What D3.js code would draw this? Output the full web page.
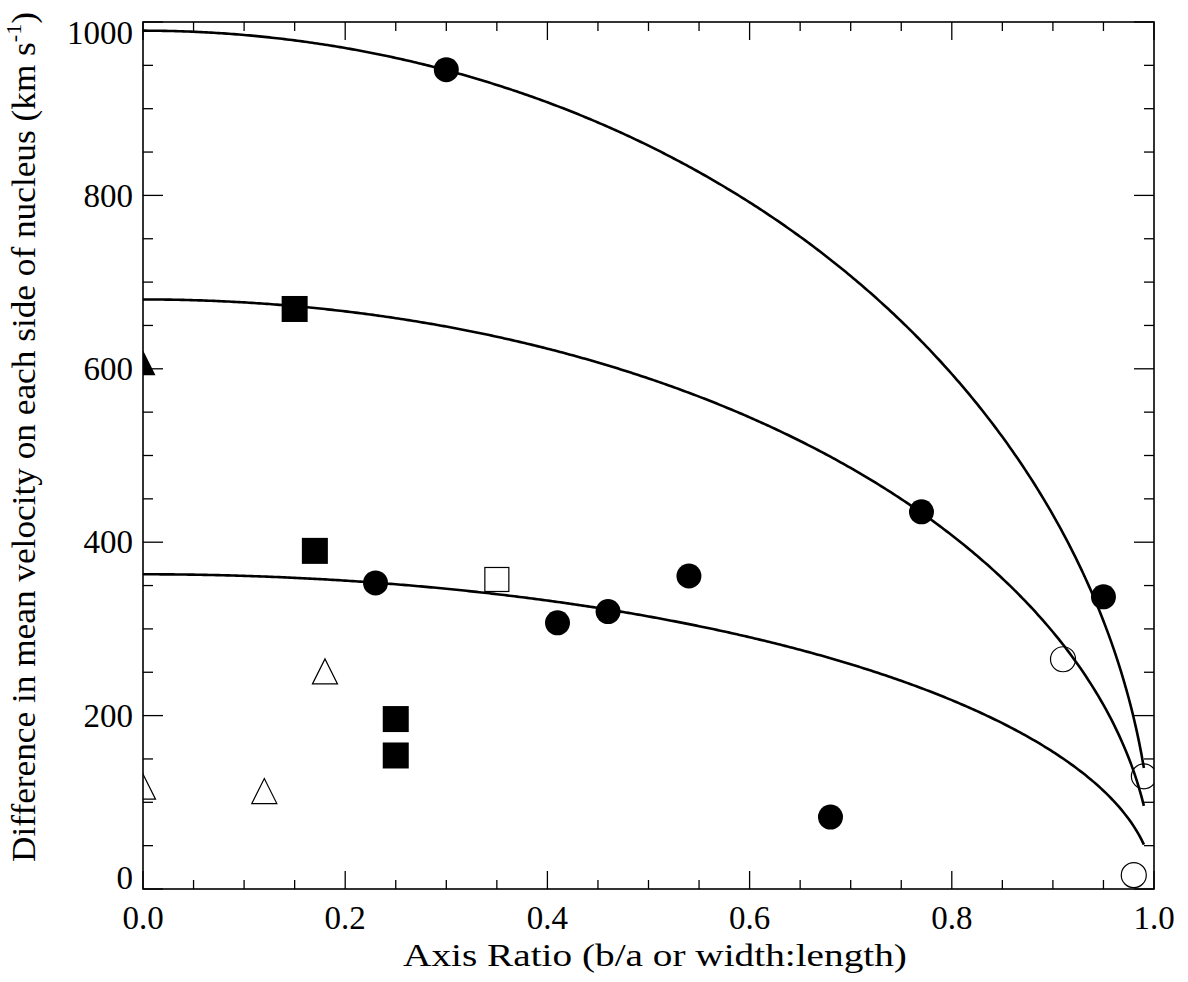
<!DOCTYPE html>
<html>
<head>
<meta charset="utf-8">
<script src="https://cdn.jsdelivr.net/npm/d3@7"></script>
<style>
  html, body { margin: 0; padding: 0; background: #fff; }
  svg { display: block; font-family: "Liberation Serif", "DejaVu Serif", serif; }
</style>
</head>
<body>
<svg id="chart" width="1188" height="982"></svg>
<script>
// Axis ratio (b/a) and velocity difference (km/s) for each sample
const filledCircleQ = [0.30, 0.77, 0.95, 0.23, 0.41, 0.46, 0.54, 0.68];
const filledCircleV = [945, 435, 337, 353, 307, 320, 361, 83];
const openCircleQ = [0.91, 0.99, 0.98];
const openCircleV = [265, 130, 16];
const filledSquareQ = [0.15, 0.17, 0.25, 0.25];
const filledSquareV = [669, 390, 196, 154];
const openSquareQ = [0.35];
const openSquareV = [357];
const filledTriangleQ = [0.0];
const filledTriangleV = [607];
const openTriangleQ = [0.0, 0.12, 0.18];
const openTriangleV = [118, 113, 251];

// Intrinsic velocity amplitudes of the model curves, v = V0 * sqrt(1 - q^2)
const curveV0 = [990, 680, 363];
const curveQMax = 0.99;

const xTicks = [0.0, 0.2, 0.4, 0.6, 0.8, 1.0];
const yTicks = [0, 200, 400, 600, 800, 1000];

(function draw() {
  const svg = d3.select("#chart");
  const pLeft = 143, pRight = 1154, pTop = 22, pBottom = 889;

  const x = d3.scaleLinear().domain([0, 1]).range([pLeft, pRight]);
  const y = d3.scaleLinear().domain([0, 1000]).range([pBottom, pTop]);

  svg.append("defs").append("clipPath").attr("id", "plotClip")
    .append("rect").attr("x", pLeft).attr("y", pTop)
    .attr("width", pRight - pLeft).attr("height", pBottom - pTop);

  // Tick marks on all four sides
  const xMinor = d3.range(0, 1.0001, 0.05);
  const yMinor = d3.range(0, 1000.01, 50);
  const ticks = svg.append("g").attr("stroke", "#000").attr("stroke-width", 1.3);
  xMinor.forEach((v, i) => {
    const len = i % 4 === 0 ? 18 : 9;
    ticks.append("line").attr("x1", x(v)).attr("x2", x(v)).attr("y1", pBottom).attr("y2", pBottom - len);
    ticks.append("line").attr("x1", x(v)).attr("x2", x(v)).attr("y1", pTop).attr("y2", pTop + len);
  });
  yMinor.forEach((v, i) => {
    const len = i % 4 === 0 ? 20 : 10;
    ticks.append("line").attr("x1", pLeft).attr("x2", pLeft + len).attr("y1", y(v)).attr("y2", y(v));
    ticks.append("line").attr("x1", pRight).attr("x2", pRight - len).attr("y1", y(v)).attr("y2", y(v));
  });

  // Frame
  svg.append("rect").attr("x", pLeft).attr("y", pTop)
    .attr("width", pRight - pLeft).attr("height", pBottom - pTop)
    .attr("fill", "none").attr("stroke", "#000").attr("stroke-width", 1.6);

  // Tick labels
  const fs = 33;
  svg.append("g").selectAll("text").data(xTicks).join("text")
    .attr("x", d => x(d)).attr("y", 929)
    .attr("text-anchor", "middle").attr("font-size", fs)
    .text(d => d.toFixed(1));

  svg.append("g").selectAll("text").data(yTicks).join("text")
    .attr("x", 133)
    .attr("y", d => y(d) + (d === 0 ? -11 : d === 1000 ? 11 : 0))
    .attr("dy", "0.34em")
    .attr("text-anchor", "end").attr("font-size", fs)
    .text(d => d);

  // Axis titles, widened to the wide book-face proportions of the original lettering
  const xTitleG = svg.append("g");
  const xTitle = xTitleG.append("text")
    .attr("text-anchor", "middle").attr("font-size", 31)
    .text("Axis Ratio (b/a or width:length)");
  const xs = 504 / xTitle.node().getComputedTextLength();
  xTitleG.attr("transform", `translate(655,966) scale(${xs},1.05)`);

  const yTitleG = svg.append("g");
  const yTitle = yTitleG.append("text")
    .attr("text-anchor", "middle").attr("font-size", 32);
  yTitle.append("tspan").text("Difference in mean velocity on each side of nucleus (km s");
  yTitle.append("tspan").attr("font-size", 20).attr("dy", -13).text("-1");
  yTitle.append("tspan").attr("dy", 13).text(")");
  const ys = 850 / yTitle.node().getComputedTextLength();
  yTitleG.attr("transform", `translate(35,437) rotate(-90) scale(${ys},1.05)`);

  // Model curves
  const plot = svg.append("g").attr("clip-path", "url(#plotClip)");
  const qSamples = d3.range(0, curveQMax + 1e-9, 0.0025);
  const line = d3.line().x(d => x(d[0])).y(d => y(d[1]));
  curveV0.forEach(v0 => {
    plot.append("path")
      .datum(qSamples.map(q => [q, v0 * Math.sqrt(Math.max(0, 1 - q * q))]))
      .attr("d", line).attr("fill", "none")
      .attr("stroke", "#000").attr("stroke-width", 2.6);
  });

  // Markers
  const pts = (qs, vs) => qs.map((q, i) => [q, vs[i]]);
  const r = 12.5, half = 13;

  plot.append("g").selectAll("circle").data(pts(filledCircleQ, filledCircleV)).join("circle")
    .attr("cx", d => x(d[0])).attr("cy", d => y(d[1])).attr("r", r).attr("fill", "#000");

  plot.append("g").selectAll("circle").data(pts(openCircleQ, openCircleV)).join("circle")
    .attr("cx", d => x(d[0])).attr("cy", d => y(d[1])).attr("r", r)
    .attr("fill", "none").attr("stroke", "#000").attr("stroke-width", 1.2);

  plot.append("g").selectAll("rect").data(pts(filledSquareQ, filledSquareV)).join("rect")
    .attr("x", d => x(d[0]) - half).attr("y", d => y(d[1]) - half)
    .attr("width", 2 * half).attr("height", 2 * half).attr("fill", "#000");

  plot.append("g").selectAll("rect").data(pts(openSquareQ, openSquareV)).join("rect")
    .attr("x", d => x(d[0]) - 12).attr("y", d => y(d[1]) - 12)
    .attr("width", 24).attr("height", 24)
    .attr("fill", "none").attr("stroke", "#000").attr("stroke-width", 1.2);

  const tri = (cx, cy) => `M${cx - 12.5},${cy + 12.5}L${cx},${cy - 12.5}L${cx + 12.5},${cy + 12.5}Z`;
  plot.append("g").selectAll("path").data(pts(filledTriangleQ, filledTriangleV)).join("path")
    .attr("d", d => tri(x(d[0]), y(d[1]))).attr("fill", "#000");

  plot.append("g").selectAll("path").data(pts(openTriangleQ, openTriangleV)).join("path")
    .attr("d", d => tri(x(d[0]), y(d[1])))
    .attr("fill", "none").attr("stroke", "#000").attr("stroke-width", 1.2);
})();
</script>
</body>
</html>
